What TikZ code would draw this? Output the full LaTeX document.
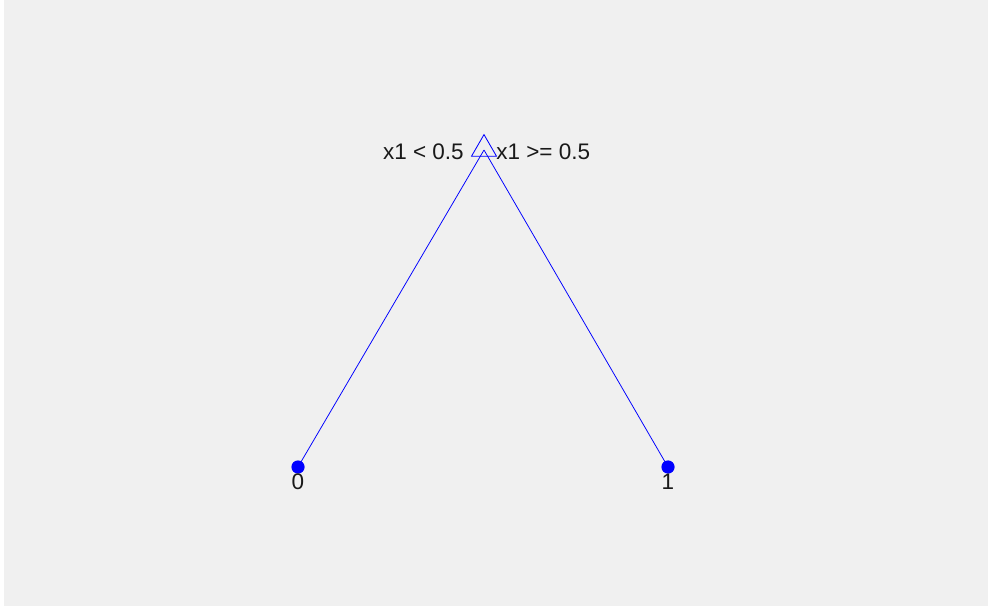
\documentclass[tikz,border=0pt]{standalone}
\usepackage{fontspec}
\setmainfont{Liberation Sans}
\usetikzlibrary{shapes.geometric,positioning}
\definecolor{figgray}{HTML}{F0F0F0}
\definecolor{treeblue}{HTML}{0000FF}

\begin{document}
\begin{tikzpicture}[x=0.025cm,y=-0.025cm,
                branch/.style={draw=treeblue,line width=0.55pt},
                splitnode/.style={regular polygon,regular polygon sides=3,draw=treeblue,line width=0.6pt,minimum size=0.72cm,inner sep=0pt},
                leafnode/.style={circle,fill=treeblue,minimum size=0.33cm,inner sep=0pt},
                lbl/.style={font=\fontsize{16pt}{19pt}\selectfont,text=black!90,inner sep=0pt}]
                \fill[white] (0,0) rectangle (988,610);
                \fill[figgray] (4,0) rectangle (988,606);
                \useasboundingbox (0,0) rectangle (988,610);
                % tree
                \coordinate (root) at (484,150);
                \node[leafnode] (leaf0) at (298,467) {};
                \node[leafnode] (leaf1) at (668,467) {};
                \draw[branch] (root) -- (leaf0.center);
                \draw[branch] (root) -- (leaf1.center);
                \node[splitnode] (split) at (484,149) {};
                % labels
                \node[lbl,anchor=east] (lleft) at (464,152) {x1 < 0.5};
                \node[lbl,anchor=west] (lright) at (496,152) {x1 >= 0.5};
                \node[lbl] (l0) at (298,482) {0};
                \node[lbl] (l1) at (668,482) {1};
            \end{tikzpicture}
\end{document}
